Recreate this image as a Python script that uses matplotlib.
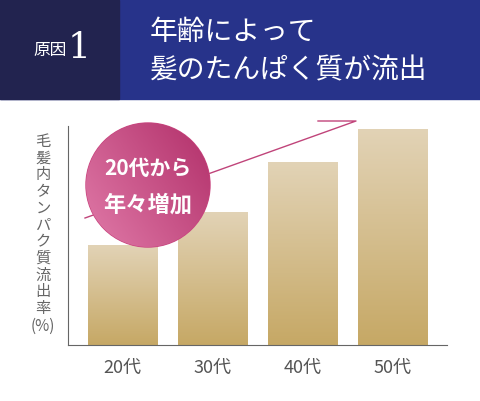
import matplotlib.pyplot as plt
import numpy as np
from matplotlib.patches import Rectangle, Circle
from matplotlib.colors import LinearSegmentedColormap

plt.rcParams['font.family'] = ['Noto Sans CJK JP', 'DejaVu Sans']

# データ
ages = ['20代', '30代', '40代', '50代']
rates = [100, 133, 183, 216]  # 相対値（目盛りなし）
title_lines = ['年齢によって', '髪のたんぱく質が流出']
ylabel_chars = list('毛髪内タンパク質流出率')

W, H = 480, 401
fig = plt.figure(figsize=(W / 100, H / 100), dpi=100)

# 棒グラフ
ax = fig.add_axes([68 / W, 1 - 345 / H, (447 - 68) / W, (345 - 126) / H])
x = np.arange(len(ages))
bars = ax.bar(x, rates, width=0.77, color='none')
grad = np.linspace(0, 1, 256).reshape(-1, 1)
cm = LinearSegmentedColormap.from_list('gold', ['#c6a865', '#e2d3b6'])
for b in bars:
    im = ax.imshow(grad, cmap=cm, aspect='auto', origin='lower',
                   extent=[b.get_x(), b.get_x() + b.get_width(), 0, b.get_height()], zorder=1)
    im.set_clip_path(b)
ax.set_xlim(-0.605, 3.6)
ax.set_ylim(0, 219)
ax.set_xticks(x, ages, fontsize=13, color='#555555')
ax.tick_params(length=0, pad=10)
ax.set_yticks([])
for s in ['top', 'right']:
    ax.spines[s].set_visible(False)
for s in ['left', 'bottom']:
    ax.spines[s].set_color('#666666')

# 全体の装飾用
ov = fig.add_axes([0, 0, 1, 1])
ov.set_xlim(0, W)
ov.set_ylim(H, 0)
ov.axis('off')
ov.patch.set_alpha(0)

ov.add_patch(Rectangle((0, 0), W, 99, color='#27338a'))
ov.add_patch(Rectangle((0, 0), 119, 99, color='#22234f'))
ov.text(33, 50, '原因', color='white', fontsize=12, va='center')
ov.text(68, 48, '1', color='white', fontsize=26, va='center', family='DejaVu Serif')
ov.text(150, 32, title_lines[0], color='white', fontsize=20, va='center')
ov.text(150, 70, title_lines[1], color='white', fontsize=20, va='center')

ov.plot([85, 356, 318], [218, 121, 121], color='#c0447a', lw=1)

circ = Circle((148, 185), 62, color='#c9457f', zorder=3)
ov.add_patch(circ)
cm2 = LinearSegmentedColormap.from_list('pink', ['#e07aa8', '#b2306a'])
gx, gy = np.meshgrid(np.linspace(0, 1, 100), np.linspace(0, 1, 100))
im = ov.imshow(gx * 0.6 + (1 - gy) * 0.4, cmap=cm2, extent=[86, 210, 247, 123], zorder=4)
im.set_clip_path(circ)
ov.text(148, 168, '20代から', color='white', fontsize=15, ha='center', va='center',
        weight='bold', zorder=5)
ov.text(148, 205, '年々増加', color='white', fontsize=16, ha='center', va='center',
        weight='bold', zorder=5)

ov.text(43, 225, '\n'.join(ylabel_chars), color='#666666', fontsize=11, ha='center',
        va='center', linespacing=0.98)
ov.text(43, 326, '(%)', color='#666666', fontsize=11, ha='center', va='center')

fig.savefig('out.png', dpi=100)
